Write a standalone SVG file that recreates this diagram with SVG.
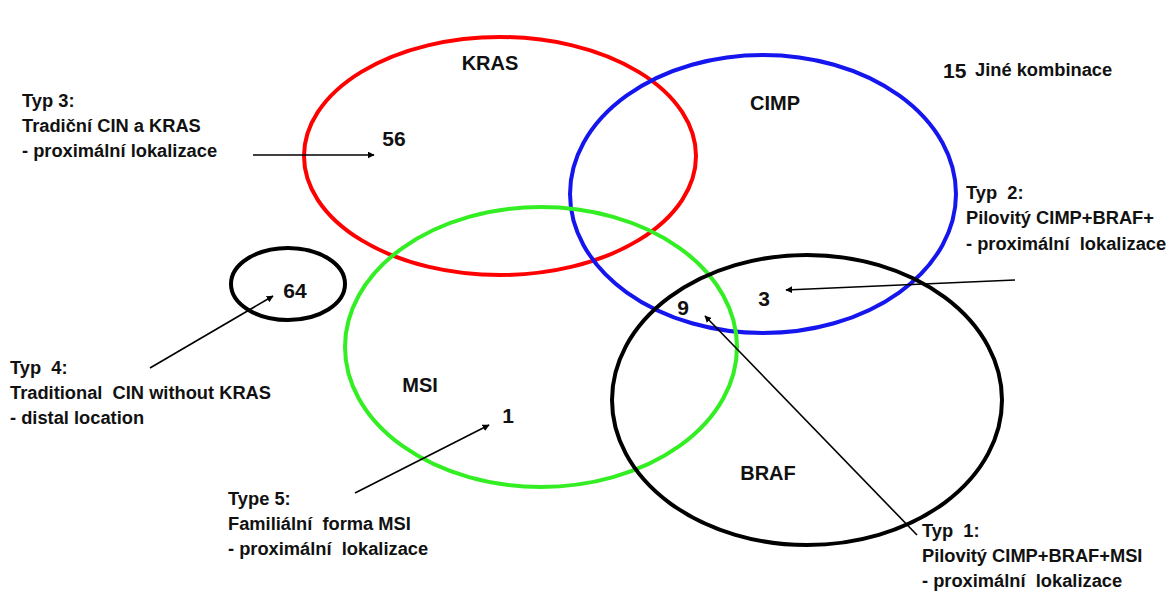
<svg xmlns="http://www.w3.org/2000/svg" width="1168" height="592" viewBox="0 0 1168 592">
  <style>
    text { font-family: "Liberation Sans", Arial, sans-serif; font-weight: bold; fill: #111; white-space: pre; }
    .lbl { font-size: 18.3px; }
    .big { font-size: 20px; }
    .num { font-size: 21px; }
    .ring { fill: none; stroke-width: 4; }
    .arrow { stroke: #000; stroke-width: 1.6; fill: none; marker-end: url(#head); }
  </style>
  <defs>
    <marker id="head" viewBox="0 0 10 10" refX="9" refY="5" markerWidth="7" markerHeight="7" markerUnits="userSpaceOnUse" orient="auto">
      <path d="M0,0 L10,5 L0,10 z" fill="#000"/>
    </marker>
  </defs>
  <rect width="1168" height="592" fill="#fff"/>

  <!-- sets -->
  <g id="kras">
    <ellipse class="ring" cx="500" cy="156" rx="196" ry="119" stroke="#f00"/>
    <text class="big" x="490" y="70" text-anchor="middle">KRAS</text>
  </g>
  <g id="cimp">
    <ellipse class="ring" cx="763" cy="194" rx="193" ry="139" stroke="#1515ee"/>
    <text class="big" x="775" y="110" text-anchor="middle">CIMP</text>
  </g>
  <g id="msi">
    <ellipse class="ring" cx="541" cy="347" rx="196" ry="140" stroke="#33ee22"/>
    <text class="big" x="420" y="392" text-anchor="middle">MSI</text>
  </g>
  <g id="braf">
    <ellipse class="ring" cx="807" cy="400" rx="195" ry="145" stroke="#000"/>
    <text class="big" x="768" y="480" text-anchor="middle">BRAF</text>
  </g>
  <g id="other">
    <ellipse class="ring" cx="288" cy="284" rx="57" ry="36" stroke="#000"/>
    <text class="num" x="295" y="298" text-anchor="middle">64</text>
  </g>

  <!-- counts -->
  <g id="counts">
    <text class="num" x="394" y="146" text-anchor="middle">56</text>
    <text class="num" x="683" y="315" text-anchor="middle">9</text>
    <text class="num" x="764" y="306" text-anchor="middle">3</text>
    <text class="num" x="508" y="423" text-anchor="middle">1</text>
  </g>

  <g id="other-combos">
    <text class="num" x="943" y="78">15</text>
    <text class="lbl" x="975" y="76">Jiné kombinace</text>
  </g>

  <!-- type captions -->
  <g id="typ3">
    <text class="lbl" x="22" y="107">Typ 3:</text>
    <text class="lbl" x="22" y="132">Tradiční CIN a KRAS</text>
    <text class="lbl" x="22" y="157">- proximální lokalizace</text>
  </g>
  <g id="typ4">
    <text class="lbl" x="10" y="374">Typ  4:</text>
    <text class="lbl" x="10" y="399">Traditional  CIN without KRAS</text>
    <text class="lbl" x="10" y="424">- distal location</text>
  </g>
  <g id="typ5">
    <text class="lbl" x="228" y="505">Type 5:</text>
    <text class="lbl" x="228" y="530">Familiální  forma MSI</text>
    <text class="lbl" x="228" y="555">- proximální  lokalizace</text>
  </g>
  <g id="typ2">
    <text class="lbl" x="966" y="199">Typ  2:</text>
    <text class="lbl" x="966" y="224">Pilovitý CIMP+BRAF+</text>
    <text class="lbl" x="966" y="250">- proximální  lokalizace</text>
  </g>
  <g id="typ1">
    <text class="lbl" x="922" y="537">Typ  1:</text>
    <text class="lbl" x="922" y="562">Pilovitý CIMP+BRAF+MSI</text>
    <text class="lbl" x="922" y="587">- proximální  lokalizace</text>
  </g>

  <!-- connectors -->
  <g id="connectors">
    <line class="arrow" x1="253" y1="155" x2="374" y2="155"/>
    <line class="arrow" x1="150" y1="368" x2="273" y2="296"/>
    <line class="arrow" x1="355" y1="493" x2="489" y2="425"/>
    <line class="arrow" x1="1015" y1="280" x2="786" y2="290"/>
    <line class="arrow" x1="917" y1="535" x2="705" y2="316"/>
  </g>
</svg>
